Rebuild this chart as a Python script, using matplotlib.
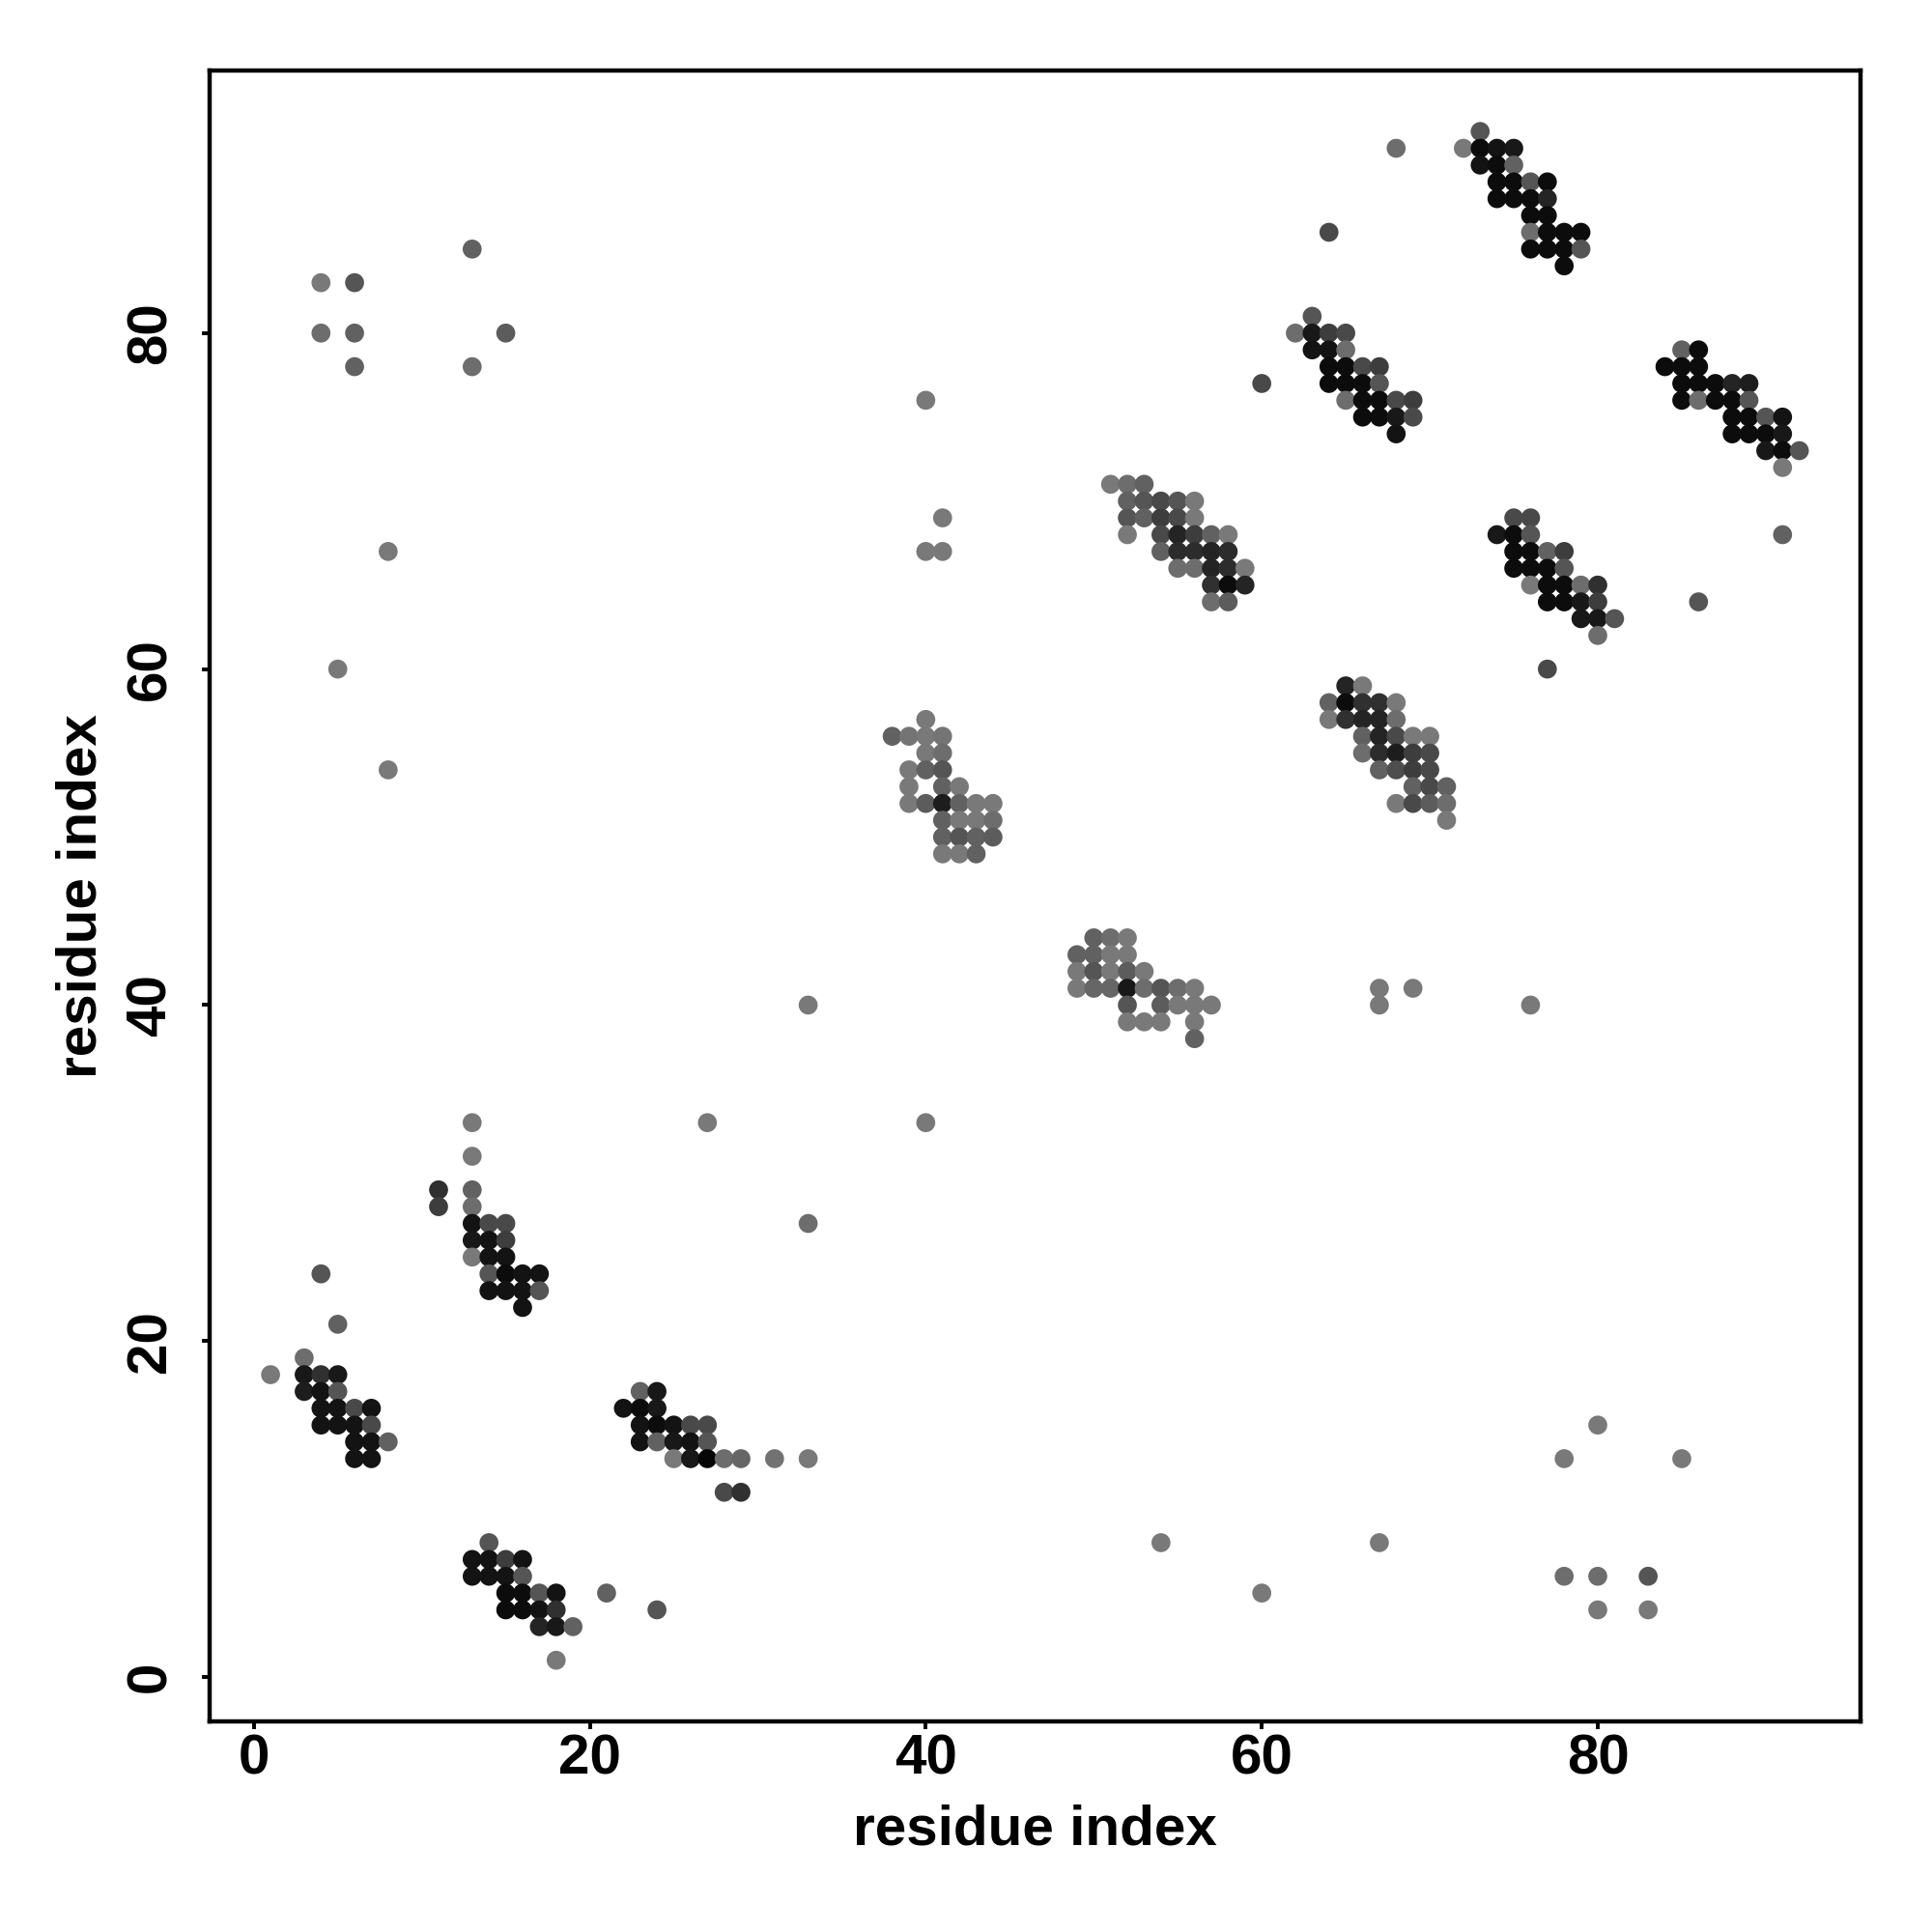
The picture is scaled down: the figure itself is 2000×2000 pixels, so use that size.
import matplotlib
matplotlib.use("Agg")
import matplotlib.pyplot as plt
import numpy as np

# (residue i, residue j, grey level 0=black .. 1=white)
cluster_a = [(4,24,.35),(5,21,.4),(3,19,.45),
    (1,18,.5),(3,18,.1),(4,18,.2),(5,18,.1),
    (3,17,.12),(4,17,.08),(5,17,.35),
    (4,16,.08),(5,16,.08),(6,16,.3),(7,16,.08),
    (4,15,.08),(5,15,.08),(6,15,.08),(7,15,.3),
    (6,14,.08),(7,14,.08),(8,14,.4),
    (6,13,.08),(7,13,.08)]
cluster_b = [(13,33,.5),(13,31,.5),(11,29,.2),(13,29,.4),(11,28,.25),(13,28,.45),
    (13,27,.08),(14,27,.3),(15,27,.3),
    (13,26,.1),(14,26,.08),(15,26,.25),
    (13,25,.5),(14,25,.08),(15,25,.08),
    (14,24,.35),(15,24,.05),(16,24,.08),(17,24,.08),
    (14,23,.08),(15,23,.08),(16,23,.08),(17,23,.35),
    (16,22,.08)]
cluster_c = [(14,8,.35),
    (13,7,.08),(14,7,.08),(15,7,.25),(16,7,.08),
    (13,6,.08),(14,6,.08),(15,6,.08),(16,6,.35),
    (15,5,.05),(16,5,.05),(17,5,.35),(18,5,.08),
    (15,4,.05),(16,4,.05),(17,4,.08),(18,4,.2),
    (17,3,.15),(18,3,.1),(19,3,.4),
    (18,1,.5),(21,5,.4),(24,4,.35)]
cluster_d = [(23,17,.4),(24,17,.1),
    (22,16,.08),(23,16,.05),(24,16,.1),
    (23,15,.08),(24,15,.05),(25,15,.08),(26,15,.3),(27,15,.3),
    (23,14,.08),(24,14,.4),(25,14,.1),(26,14,.08),(27,14,.35),
    (25,13,.5),(26,13,.1),(27,13,.03),(28,13,.45),(29,13,.42),(31,13,.47),(33,13,.5),
    (28,11,.3),(29,11,.2)]
sparse_left = [(27,33,.5),(33,27,.45),(33,40,.5),(40,33,.5),
    (4,83,.5),(6,83,.35),(4,80,.45),(6,80,.4),(6,78,.4),(13,85,.4),(13,78,.45),
    (15,80,.38),(8,67,.5),(5,60,.5),(8,54,.5)]
cluster_e = [(40,57,.5),
    (38,56,.4),(39,56,.48),(40,56,.5),(41,56,.48),
    (40,55,.5),(41,55,.45),
    (39,54,.5),(40,54,.4),(41,54,.35),
    (39,53,.5),(41,53,.4),(42,53,.5),
    (39,52,.5),(40,52,.38),(41,52,.12),(42,52,.4),(43,52,.5),(44,52,.5),
    (41,51,.4),(42,51,.5),(43,51,.5),(44,51,.45),
    (41,50,.4),(42,50,.35),(43,50,.4),(44,50,.38),
    (41,49,.5),(42,49,.5),(43,49,.4),
    (40,76,.5),(41,69,.5),(40,67,.5),(41,67,.5)]
cluster_f = [(50,44,.4),(51,44,.45),(52,44,.5),
    (49,43,.4),(50,43,.4),(51,43,.5),(52,43,.5),
    (49,42,.5),(50,42,.35),(51,42,.5),(52,42,.38),(53,42,.5),
    (49,41,.5),(50,41,.42),(51,41,.42),(52,41,.1),(53,41,.45),(54,41,.35),(55,41,.45),(56,41,.5),
    (52,40,.35),(54,40,.38),(55,40,.5),(56,40,.5),(57,40,.5),
    (52,39,.5),(53,39,.5),(54,39,.5),(56,39,.5),
    (56,38,.4)]
cluster_g = [(51,71,.5),(52,71,.45),(53,71,.4),
    (52,70,.4),(53,70,.35),(54,70,.3),(55,70,.35),(56,70,.5),
    (52,69,.35),(53,69,.4),(54,69,.25),(55,69,.3),(56,69,.5),
    (52,68,.5),(54,68,.3),(55,68,.15),(56,68,.25),(57,68,.4),(58,68,.5),
    (54,67,.4),(55,67,.18),(56,67,.18),(57,67,.15),(58,67,.18),
    (55,66,.45),(56,66,.45),(57,66,.15),(58,66,.18),(59,66,.5),
    (57,65,.2),(58,65,.05),(59,65,.15),
    (57,64,.45),(58,64,.38)]
cluster_h = [(63,81,.35),
    (62,80,.45),(63,80,.1),(64,80,.25),(65,80,.3),
    (63,79,.08),(64,79,.08),(65,79,.45),
    (64,78,.05),(65,78,.05),(66,78,.3),(67,78,.25),
    (60,77,.3),(64,77,.05),(65,77,.05),(66,77,.05),(67,77,.35),
    (65,76,.45),(66,76,.05),(67,76,.05),(68,76,.3),(69,76,.25),
    (66,75,.05),(67,75,.05),(68,75,.1),(69,75,.3),
    (68,74,.08)]
cluster_i = [(73,92,.35),
    (72,91,.5),(73,91,.05),(74,91,.08),(75,91,.1),
    (73,90,.08),(74,90,.05),(75,90,.4),
    (74,89,.05),(75,89,.05),(76,89,.35),(77,89,.05),
    (74,88,.05),(75,88,.05),(76,88,.05),(77,88,.15),
    (76,87,.05),(77,87,.05),
    (76,86,.45),(77,86,.05),(78,86,.05),(79,86,.05),
    (76,85,.05),(77,85,.05),(78,85,.05),(79,85,.35),
    (78,84,.05),(68,91,.45),(64,86,.3)]
cluster_j = [(65,59,.15),(66,59,.5),
    (64,58,.4),(65,58,.05),(66,58,.2),(67,58,.2),(68,58,.5),
    (64,57,.5),(65,57,.2),(66,57,.15),(67,57,.15),(68,57,.45),
    (66,56,.4),(67,56,.15),(68,56,.3),(69,56,.5),(70,56,.5),
    (66,55,.45),(67,55,.18),(68,55,.12),(69,55,.25),(70,55,.3),
    (67,54,.4),(68,54,.32),(69,54,.25),(70,54,.3),
    (69,53,.4),(70,53,.3),(71,53,.4),
    (68,52,.5),(69,52,.3),(70,52,.38),(71,52,.45),
    (71,51,.5)]
cluster_k = [(75,69,.3),(76,69,.3),
    (74,68,.1),(75,68,.05),(76,68,.35),
    (75,67,.05),(76,67,.05),(77,67,.4),(78,67,.25),
    (75,66,.05),(76,66,.05),(77,66,.05),(78,66,.35),
    (76,65,.5),(77,65,.05),(78,65,.05),(79,65,.45),(80,65,.2),
    (77,64,.05),(78,64,.05),(79,64,.1),(80,64,.25),
    (79,63,.1),(80,63,.1),(81,63,.35),
    (80,62,.45),(77,60,.3)]
cluster_l = [(85,79,.4),(86,79,.05),
    (84,78,.05),(85,78,.05),(86,78,.05),
    (85,77,.05),(86,77,.05),(87,77,.05),(88,77,.15),(89,77,.12),
    (85,76,.05),(86,76,.45),(87,76,.05),(88,76,.05),(89,76,.35),
    (88,75,.05),(89,75,.05),(90,75,.35),(91,75,.08),
    (88,74,.05),(89,74,.05),(90,74,.05),(91,74,.1),
    (90,73,.1),(91,73,.05),(92,73,.35),
    (91,72,.5),(91,68,.4),(86,64,.35)]
sparse_right = [(67,41,.5),(67,40,.5),(69,41,.5),(76,40,.5),
    (54,8,.5),(67,8,.5),(60,5,.5),(80,15,.5),(78,13,.5),(85,13,.5),
    (78,6,.45),(80,6,.45),(83,6,.35),(80,4,.5),(83,4,.5)]

x_ticks = [0, 20, 40, 60, 80]
y_ticks = [0, 20, 40, 60, 80]
axis_label = "residue index"

groups = [cluster_a, cluster_b, cluster_c, cluster_d, sparse_left, cluster_e,
          cluster_f, cluster_g, cluster_h, cluster_i, cluster_j, cluster_k,
          cluster_l, sparse_right]
pts = np.array([p for g in groups for p in g], dtype=float)
xs, ys, grey = pts[:, 0], pts[:, 1], pts[:, 2]
colors = [(g * 0.95, g * 0.95, g * 0.95) for g in grey]

plt.rcParams['font.family'] = ['Liberation Sans', 'DejaVu Sans']
fig = plt.figure(figsize=(10, 10), dpi=200)
ax = fig.add_axes([0.1084, 0.109, 0.963 - 0.1084, 0.9636 - 0.109])
ax.scatter(xs, ys, s=50, c=colors, linewidths=0)

lo, hi = 1, 92
pad = (hi - lo) * 0.04
ax.set_xlim(lo - pad, hi + pad)
ax.set_ylim(lo - pad, hi + pad)
ax.set_xticks(x_ticks)
ax.set_yticks(y_ticks)
ax.tick_params(length=3, width=1.4, labelsize=21)
ax.tick_params(axis='x', pad=1.5)
ax.tick_params(axis='y', pad=9)
for lab in ax.get_xticklabels():
    lab.set_fontweight('bold')
for lab in ax.get_yticklabels():
    lab.set_fontweight('bold')
    lab.set_rotation(90)
    lab.set_va('center')
for sp in ax.spines.values():
    sp.set_linewidth(1.6)
ax.set_xlabel(axis_label, fontsize=21, fontweight='bold', labelpad=7)
ax.set_ylabel(axis_label, fontsize=21, fontweight='bold', labelpad=6.5)
fig.savefig("out.png", dpi=200, facecolor='white')
